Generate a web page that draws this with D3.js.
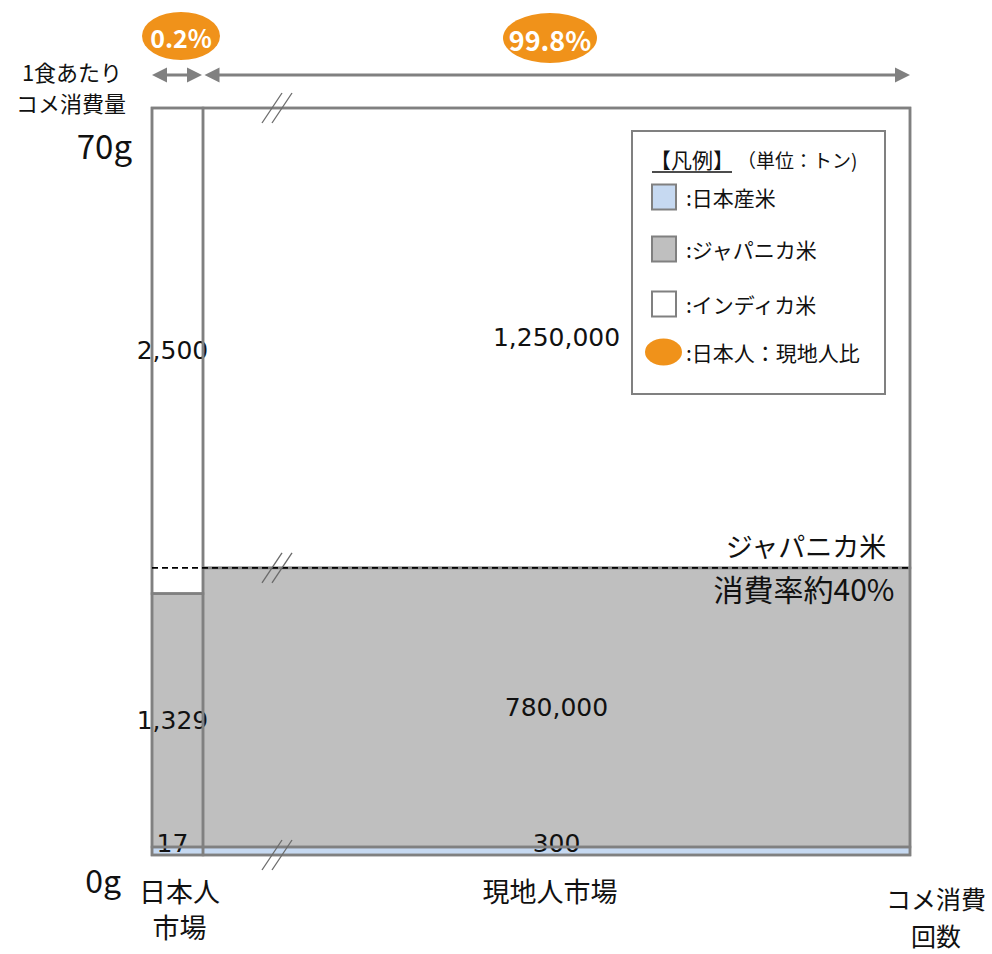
<!DOCTYPE html>
<html>
<head>
<meta charset="utf-8">
<script src="https://cdn.jsdelivr.net/npm/d3@7"></script>
<style>
  html, body { margin: 0; padding: 0; background: #fff; }
  svg { display: block; }
  .jp { font-family: "Noto Sans CJK JP", "Noto Sans", sans-serif; }
  .num { font-family: "DejaVu Sans", Verdana, sans-serif; }
</style>
</head>
<body>
<svg id="chart" width="992" height="954"></svg>
<script>
// ---- data ----
const markets = ["日本人市場", "現地人市場"];
const marketShare = [0.2, 99.8];                 // share of rice-eating occasions (%)
const riceTypes = ["日本産米", "ジャパニカ米", "インディカ米"];
const japaneseMarket = [17, 1329, 2500];         // tonnes, by rice type
const localMarket = [300, 780000, 1250000];      // tonnes, by rice type
const gramsPerMeal = [0, 70];                    // y-axis span (g per meal)
const yTickLabels = ["0g", "70g"];
const marketLabels = [["日本人", "市場"], ["現地人市場"]];
const legendTitle = "【凡例】";
const legendUnit = "（単位：トン)";
const legendRatioLabel = "日本人：現地人比";

// ---- layout ----
const plotLeft = 152, plotRight = 910, plotTop = 108, plotBottom = 855;
const breakX = 203;       // where the compressed (broken) x-axis resumes
const minSegPx = 8;       // tiny segments stay visible
const grey = "#808080";
const fillColor = d3.scaleOrdinal().domain(riceTypes).range(["#C6D9F1", "#BFBFBF", "#FFFFFF"]);
const orange = "#F0921A";

const svg = d3.select("#chart");

// x: cumulative share of occasions on a broken axis
const cum = [0];
marketShare.forEach((s, i) => cum.push(cum[i] + s));
const x = d3.scaleLinear().domain(cum).range([plotLeft, breakX, plotRight]);
// y: grams per meal
const y = d3.scaleLinear().domain(gramsPerMeal).range([plotBottom, plotTop]);

// stacked segments for each market (share of the market's tonnage)
const columns = [japaneseMarket, localMarket].map((vals, mi) => {
  const total = d3.sum(vals);
  const x0 = x(cum[mi]), x1 = x(cum[mi + 1]);
  let acc = 0;
  let yBase = y(0);
  return vals.map((v, ti) => {
    acc += v;
    const last = ti === vals.length - 1;
    let yTop = y(gramsPerMeal[1] * acc / total);
    if (!last && yBase - yTop < minSegPx) yTop = yBase - minSegPx;
    if (last) yTop = y(gramsPerMeal[1]);
    const seg = { market: markets[mi], type: riceTypes[ti], value: v, x0, x1, y0: yBase, y1: yTop };
    yBase = yTop;
    return seg;
  });
});
const segments = columns.flat();

// fills
svg.append("g").selectAll("rect").data(segments).join("rect")
  .attr("x", d => d.x0).attr("y", d => d.y1)
  .attr("width", d => d.x1 - d.x0).attr("height", d => d.y0 - d.y1)
  .attr("fill", d => fillColor(d.type));

// value labels
svg.append("g").attr("class", "num").selectAll("text").data(segments).join("text")
  .attr("x", d => (d.x0 + d.x1) / 2 - (d.x1 - d.x0 < 100 ? 5 : 0))
  .attr("y", d => (d.y0 - d.y1) < 30 ? d.y0 - 12 : (d.y0 + d.y1) / 2)
  .attr("text-anchor", "middle")
  .attr("dominant-baseline", "central")
  .attr("font-size", 25)
  .attr("fill", "#111")
  .text(d => d3.format(",")(d.value));

// segment borders drawn over the labels
svg.append("g").selectAll("rect").data(segments).join("rect")
  .attr("x", d => d.x0).attr("y", d => d.y1)
  .attr("width", d => d.x1 - d.x0).attr("height", d => d.y0 - d.y1)
  .attr("fill", "none").attr("stroke", grey).attr("stroke-width", 2.5);

// outer frame
svg.append("rect")
  .attr("x", plotLeft).attr("y", plotTop)
  .attr("width", plotRight - plotLeft).attr("height", plotBottom - plotTop)
  .attr("fill", "none").attr("stroke", grey).attr("stroke-width", 2.5);

// japonica share line across the chart
const japonicaTop = columns[1][1].y1;
svg.append("line")
  .attr("x1", plotLeft).attr("x2", plotRight)
  .attr("y1", japonicaTop).attr("y2", japonicaTop)
  .attr("stroke", "#000").attr("stroke-width", 1.6)
  .attr("stroke-dasharray", "6,4");

const share = localMarket[1] / d3.sum(localMarket);
svg.append("text").attr("class", "jp")
  .attr("x", 806).attr("y", japonicaTop - 22)
  .attr("text-anchor", "middle").attr("dominant-baseline", "central")
  .attr("font-size", 27).attr("fill", "#111").text("ジャパニカ米");
svg.append("text").attr("class", "jp")
  .attr("x", 804).attr("y", japonicaTop + 20)
  .attr("text-anchor", "middle").attr("dominant-baseline", "central")
  .attr("font-size", 30).attr("fill", "#111")
  .text("消費率約" + Math.round(share * 10) * 10 + "%");

// axis-break marks on the compressed column
const breakMarkX = breakX + 74;
[plotTop, japonicaTop, plotBottom].forEach(yy => {
  [-5, 5].forEach(dx => {
    svg.append("line")
      .attr("x1", breakMarkX + dx - 10).attr("y1", yy + 15)
      .attr("x2", breakMarkX + dx + 10).attr("y2", yy - 15)
      .attr("stroke", "#6a6a6a").attr("stroke-width", 1.3);
  });
});

// width arrows with share badges
function arrowHead(xTip, yy, dir) {
  const len = 15, half = 7.5;
  svg.append("path")
    .attr("d", `M${xTip},${yy} L${xTip - dir * len},${yy - half} L${xTip - dir * len},${yy + half} Z`)
    .attr("fill", grey);
}
const arrowY = 75;
marketShare.forEach((s, i) => {
  const a = x(cum[i]) + (i === 0 ? 0 : 1.5), b = x(cum[i + 1]) - (i === 0 ? 1 : 0);
  svg.append("line").attr("x1", a + 8).attr("x2", b - 8)
    .attr("y1", arrowY).attr("y2", arrowY)
    .attr("stroke", grey).attr("stroke-width", 3);
  arrowHead(a, arrowY, -1);
  arrowHead(b, arrowY, 1);
});

const badges = [{ cx: 181, cy: 36, rx: 39, ry: 24, size: 25 }, { cx: 550, cy: 38, rx: 47, ry: 25, size: 27 }];
marketShare.forEach((s, i) => {
  const b = badges[i];
  svg.append("ellipse").attr("cx", b.cx).attr("cy", b.cy).attr("rx", b.rx).attr("ry", b.ry).attr("fill", orange);
  svg.append("text").attr("class", "jp")
    .attr("x", b.cx).attr("y", b.cy + 1)
    .attr("text-anchor", "middle").attr("dominant-baseline", "central")
    .attr("font-size", b.size).attr("font-weight", 700).attr("fill", "#fff")
    .text(s + "%");
});

// axis titles and tick labels
const jp = (txt, xx, yy, size, anchor = "middle") =>
  svg.append("text").attr("class", "jp").attr("x", xx).attr("y", yy)
    .attr("text-anchor", anchor).attr("dominant-baseline", "central")
    .attr("font-size", size).attr("fill", "#111").text(txt);

jp("1食あたり", 72, 71, 22);
jp("コメ消費量", 71, 102, 22);
jp(yTickLabels[1], 132, 145, 33, "end");
jp(yTickLabels[0], 121, 879, 32, "end");

marketLabels[0].forEach((t, i) => jp(t, (x(cum[0]) + x(cum[1])) / 2 + 2, 890 + i * 36, 27));
jp(marketLabels[1][0], 550, 890, 27);
jp("コメ消費", 936, 898, 25);
jp("回数", 936, 935, 25);

// legend
const lg = svg.append("g");
lg.append("rect").attr("x", 632).attr("y", 131).attr("width", 253).attr("height", 263)
  .attr("fill", "#fff").attr("stroke", grey).attr("stroke-width", 2);
lg.append("text").attr("class", "jp").attr("x", 650).attr("y", 159)
  .attr("dominant-baseline", "central").attr("font-size", 21).attr("fill", "#111").text(legendTitle);
lg.append("line").attr("x1", 652).attr("x2", 732).attr("y1", 172).attr("y2", 172)
  .attr("stroke", "#111").attr("stroke-width", 1.5);
lg.append("text").attr("class", "jp").attr("x", 737).attr("y", 159)
  .attr("dominant-baseline", "central").attr("font-size", 19).attr("fill", "#111").text(legendUnit);

const legendRows = [197, 249, 304];
riceTypes.forEach((t, i) => {
  lg.append("rect").attr("x", 652).attr("y", legendRows[i] - 12.5).attr("width", 24).attr("height", 25)
    .attr("fill", fillColor(t)).attr("stroke", grey).attr("stroke-width", 2);
  lg.append("text").attr("class", "jp").attr("x", 686).attr("y", legendRows[i])
    .attr("dominant-baseline", "central").attr("font-size", 21).attr("fill", "#111").text(":" + t);
});
lg.append("ellipse").attr("cx", 663.5).attr("cy", 352).attr("rx", 18.5).attr("ry", 13.5).attr("fill", orange);
lg.append("text").attr("class", "jp").attr("x", 686).attr("y", 352)
  .attr("dominant-baseline", "central").attr("font-size", 21).attr("fill", "#111").text(":" + legendRatioLabel);
</script>
</body>
</html>
